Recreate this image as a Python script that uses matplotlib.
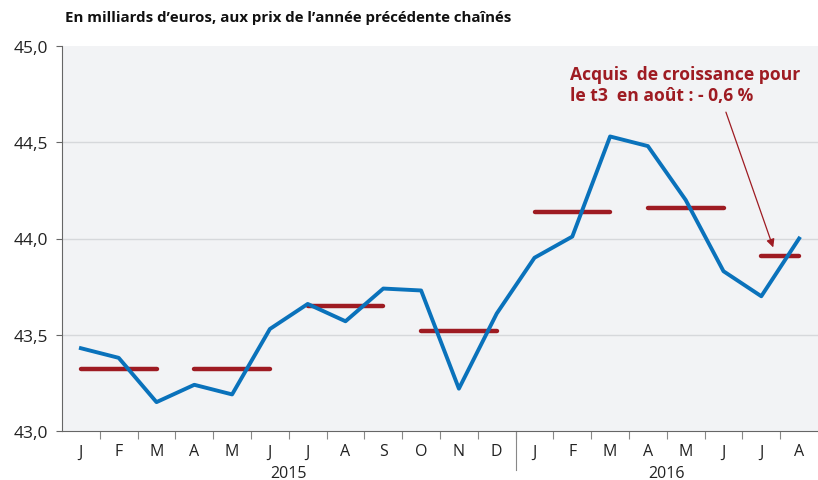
import matplotlib.pyplot as plt

# données mensuelles (milliards d'euros)
mois = ['J', 'F', 'M', 'A', 'M', 'J', 'J', 'A', 'S', 'O', 'N', 'D',
        'J', 'F', 'M', 'A', 'M', 'J', 'J', 'A']
annees = ['2015', '2016']
valeurs = [43.43, 43.38, 43.15, 43.24, 43.19, 43.53, 43.66, 43.57, 43.74, 43.73, 43.22, 43.61,
           43.90, 44.01, 44.53, 44.48, 44.20, 43.83, 43.70, 44.00]
# moyennes trimestrielles
trim = [43.32, 43.32, 43.65, 43.52, 44.14, 44.16, 43.91]

bleu = '#0a72bb'
rouge = '#9e1b22'
fond = '#f2f3f5'

plt.rcParams['font.family'] = ['Open Sans', 'DejaVu Sans']

fig = plt.figure(figsize=(8.18, 4.81), dpi=100)
ax = fig.add_axes([62 / 818, 49 / 481, 756 / 818, 385 / 481])
ax.set_facecolor(fond)

x = list(range(len(valeurs)))
for k, v in enumerate(trim):
    debut = 3 * k
    fin = min(3 * k + 2, len(valeurs) - 1)
    ax.plot([debut, fin], [v, v], color=rouge, lw=3.2, solid_capstyle='round', zorder=2)
ax.plot(x, valeurs, color=bleu, lw=2.8, zorder=3)

ax.set_xlim(-0.5, len(valeurs) - 0.5)
ax.set_ylim(43.0, 45.0)

yt = [43.0, 43.5, 44.0, 44.5, 45.0]
ax.set_yticks(yt)
ax.set_yticklabels([f'{v:.1f}'.replace('.', ',') for v in yt], fontsize=12.5, color='#222222')
for v in yt[1:-1]:
    ax.axhline(v, color='#d6d8db', lw=1, zorder=1)

ax.set_xticks(x)
ax.set_xticklabels(mois, fontsize=11.5, color='#222222')
ax.set_xticks([i + 0.5 for i in range(len(valeurs) - 1)], minor=True)
ax.tick_params(axis='x', which='major', length=0, pad=9)
ax.tick_params(axis='x', which='minor', length=6, color='#888888', width=0.8)
ax.tick_params(axis='y', length=4, color='#666666', width=0.8, pad=6)

for s in ['top', 'right']:
    ax.spines[s].set_visible(False)
ax.spines['left'].set_color('#666666')
ax.spines['bottom'].set_color('#666666')

tr = ax.get_xaxis_transform()
ax.plot([11.5, 11.5], [0, -0.1], transform=tr, color='#888888', lw=0.8, clip_on=False)
ax.text(5.5, -0.108, annees[0], transform=tr, ha='center', va='center', fontsize=11.5, color='#222222')
ax.text(15.5, -0.108, annees[1], transform=tr, ha='center', va='center', fontsize=11.5, color='#222222')

fig.text(65 / 818, 1 - 18 / 481, "En milliards d\u2019euros, aux prix de l\u2019ann\u00e9e pr\u00e9c\u00e9dente cha\u00een\u00e9s",
         fontsize=10.8, fontweight='bold', va='center', color='#111111')

ax.text(12.95, 44.80, 'Acquis  de croissance pour\nle t3  en ao\u00fbt : - 0,6 %', color=rouge,
        fontsize=12.6, fontweight='bold', va='center', ha='left', linespacing=1.25)
ax.annotate('', xy=(18.34, 43.94), xytext=(17.04, 44.67),
            arrowprops=dict(arrowstyle='-|>', color=rouge, lw=0.9, mutation_scale=12))

fig.savefig('out.png', dpi=100)
